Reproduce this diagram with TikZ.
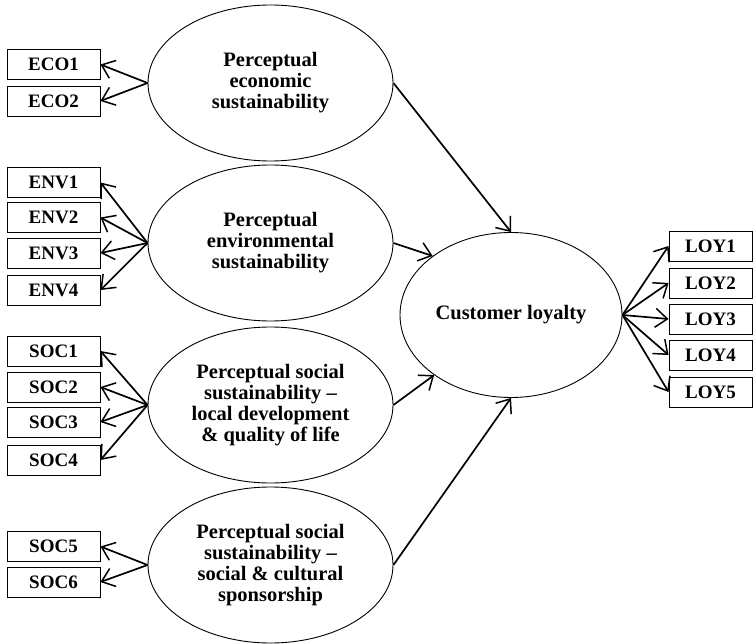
\documentclass[tikz,border=0pt]{standalone}
\usepackage{fontspec}
\setmainfont{Liberation Serif}
\usetikzlibrary{arrows.meta,shapes.geometric}
\begin{document}
\begin{tikzpicture}[x=1pt,y=-1pt,
  lat/.style={ellipse, draw, line width=0.9pt, minimum width=245pt, minimum height=156pt,
    inner sep=0pt, align=center, font=\fontsize{20.5}{21}\selectfont\bfseries},
  obs/.style={rectangle, draw, line width=0.9pt, minimum width=93pt, minimum height=30pt,
    inner sep=0pt, font=\fontsize{19}{20}\selectfont\bfseries},
  loy/.style={obs, minimum width=83pt},
  arr/.style={line width=1.7pt, -{Straight Barb[length=12pt,width=19pt,line width=1.5pt]}}]
\useasboundingbox (0,0) rectangle (754,644);

% latent constructs
\node[lat] (eco) at (270.5,83) {Perceptual\\economic\\sustainability};
\node[lat] (env) at (270.5,243) {Perceptual\\environmental\\sustainability};
\node[lat] (socA) at (270.5,405) {Perceptual social\\sustainability --\\local development\\\& quality of life};
\node[lat] (socB) at (270.5,565) {Perceptual social\\sustainability --\\social \& cultural\\sponsorship};
\node[lat, minimum width=222pt, minimum height=165pt] (cl) at (511,315) {Customer loyalty};

% indicators
\node[obs] (eco1) at (53.5,64.5) {ECO1};
\node[obs] (eco2) at (53.5,101) {ECO2};
\node[obs] (env1) at (53.5,182.5) {ENV1};
\node[obs] (env2) at (53.5,217.5) {ENV2};
\node[obs] (env3) at (53.5,253) {ENV3};
\node[obs] (env4) at (53.5,290) {ENV4};
\node[obs] (soc1) at (53.5,351) {SOC1};
\node[obs] (soc2) at (53.5,387) {SOC2};
\node[obs] (soc3) at (53.5,422) {SOC3};
\node[obs] (soc4) at (53.5,460) {SOC4};
\node[obs] (soc5) at (53.5,546.5) {SOC5};
\node[obs] (soc6) at (53.5,582) {SOC6};
\node[loy] (loy1) at (710.5,246) {LOY1};
\node[loy] (loy2) at (710.5,283) {LOY2};
\node[loy] (loy3) at (710.5,319) {LOY3};
\node[loy] (loy4) at (710.5,355) {LOY4};
\node[loy] (loy5) at (710.5,392) {LOY5};

% loadings
\foreach \t in {eco1,eco2} \draw[arr] (eco.west) -- (\t.east);
\foreach \t in {env1,env2,env3,env4} \draw[arr] (env.west) -- (\t.east);
\foreach \t in {soc1,soc2,soc3,soc4} \draw[arr] (socA.west) -- (\t.east);
\foreach \t in {soc5,soc6} \draw[arr] (socB.west) -- (\t.east);
\foreach \t in {loy1,loy2,loy3,loy4,loy5} \draw[arr] (cl.east) -- (\t.west);

% structural paths
\draw[arr] (eco.east) -- (cl.north);
\draw[arr] (env.east) -- (cl.143);
\draw[arr] (socA.east) -- (cl.218);
\draw[arr] (socB.east) -- (cl.south);
\end{tikzpicture}
\end{document}
